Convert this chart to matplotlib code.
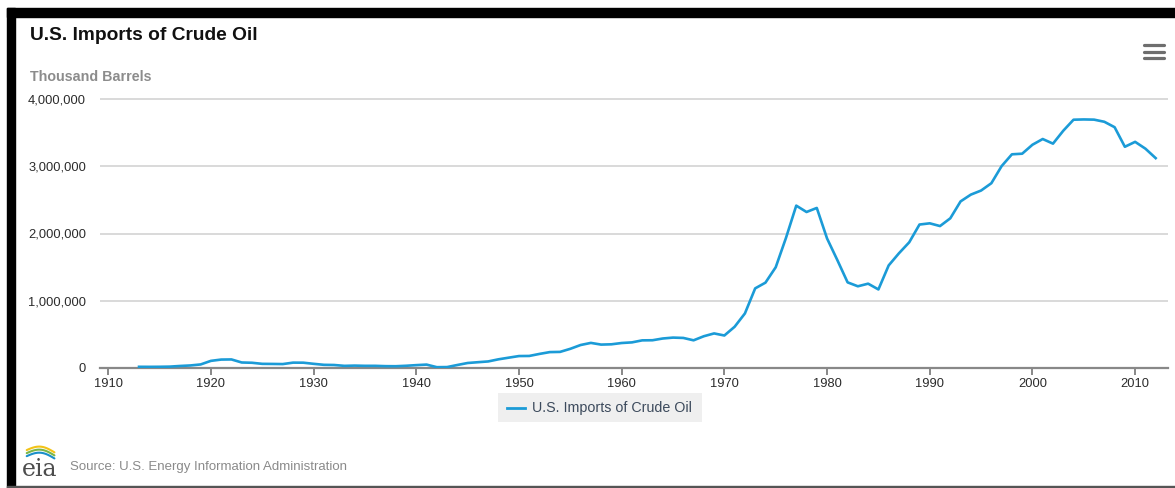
import matplotlib
matplotlib.use("Agg")
import matplotlib.pyplot as plt
import numpy as np
from matplotlib.patches import Rectangle, FancyBboxPatch
from matplotlib.ticker import FuncFormatter

W, H = 1175, 488

years = list(range(1913, 2013))
imports = [
    17809, 17247, 18140, 20570, 30162, 37736, 52822,                      # 1913-1919
    106175, 125364, 127308, 82015, 77775, 61824, 60382, 58383, 79767, 78933,  # 1920s
    62129, 47250, 44682, 31893, 35558, 32239, 32327, 27484, 26412, 33095,     # 1930s
    42662, 50606, 12297, 13833, 44805, 74337, 86066, 97532, 129093, 153686,   # 1940s
    177714, 179143, 209591, 236455, 239479, 285421, 341833, 373255, 348007, 352405,  # 1950s
    371575, 380999, 411039, 412660, 438643, 452040, 447120, 411649, 472323, 514114,  # 1960s
    483293, 613417, 811135, 1183996, 1269155, 1498181, 1935012, 2414327, 2319826, 2379968,  # 1970s
    1926200, 1604824, 1273296, 1215047, 1253946, 1168177, 1525347, 1705882, 1869031, 2133206,  # 1980s
    2151391, 2110634, 2225881, 2477155, 2578070, 2638982, 2747845, 3002299, 3177584, 3186663,  # 1990s
    3319816, 3404894, 3336175, 3527696, 3692063, 3695971, 3693081, 3661404, 3580694, 3289675,  # 2000s
    3362856, 3261422, 3120755,                                             # 2010-2012
]
decades = list(range(1910, 2020, 10))
yticks = [0, 1000000, 2000000, 3000000, 4000000]

LINE = "#1b9bd7"
TXT = "#2b2b2b"

plt.rcParams["font.family"] = ["Liberation Sans", "DejaVu Sans"]

fig = plt.figure(figsize=(W / 100, H / 100), dpi=100)


def fx(px):
    return px / W


def fy(py):
    return 1 - py / H


# screenshot frame
fig.patches.append(Rectangle((fx(7), fy(17)), 1 - fx(7), fy(8) - fy(17), transform=fig.transFigure,
                             color="black", zorder=0))
fig.patches.append(Rectangle((fx(7), 0), fx(15) - fx(7), fy(8), transform=fig.transFigure,
                             color="black", zorder=0))
fig.patches.append(Rectangle((fx(7), 0), 1 - fx(7), fy(485.5), transform=fig.transFigure,
                             color="#555555", zorder=0))

# plot area
top_px = 96
ax = fig.add_axes([fx(100), fy(368), fx(1168) - fx(100), fy(top_px) - fy(368)])
ax.plot(years, imports, color=LINE, lw=1.9, solid_joinstyle="round", zorder=3,
        label="U.S. Imports of Crude Oil")
ax.set_xlim(1909.2, 2013.2)
ax.set_ylim(0, 4000000 * (368 - top_px) / (368 - 99))

ax.set_yticks(yticks)
ax.yaxis.set_major_formatter(FuncFormatter(lambda v, _: f"{int(v):,}"))
ax.set_xticks(decades)
ax.grid(axis="y", color="#d9d9d9", lw=1.4)
ax.set_axisbelow(True)
for s in ("top", "right", "left"):
    ax.spines[s].set_visible(False)
ax.spines["bottom"].set_color("#888888")
ax.spines["bottom"].set_linewidth(1.6)
ax.tick_params(axis="y", length=0, pad=10, labelsize=9.3, labelcolor=TXT)
ax.tick_params(axis="x", length=5, width=1.4, color="#888888", pad=2, labelsize=9.3, labelcolor=TXT)

# titles
fig.text(fx(30), fy(35), "U.S. Imports of Crude Oil", fontsize=13.8, fontweight="bold",
         color="#111111", va="center", ha="left")
fig.text(fx(30), fy(77), "Thousand Barrels", fontsize=10.3, fontweight="bold",
         color="#8c8c8c", va="center", ha="left")

# menu icon
for yy in (45, 51.5, 58):
    fig.add_artist(plt.Line2D([fx(1144), fx(1164)], [fy(yy), fy(yy)], color="#6e6e6e",
                              lw=2.3, solid_capstyle="round", transform=fig.transFigure))

# legend box
fig.patches.append(FancyBboxPatch((fx(498), fy(422)), fx(702) - fx(498), fy(393) - fy(422),
                                  boxstyle="square,pad=0", transform=fig.transFigure,
                                  facecolor="#efefef", edgecolor="none"))
fig.add_artist(plt.Line2D([fx(507), fx(525)], [fy(408), fy(408)], color=LINE, lw=2.0,
                          transform=fig.transFigure))
fig.text(fx(532), fy(408), "U.S. Imports of Crude Oil", fontsize=10.3, color="#3c4a5c",
         va="center", ha="left")

# eia logo and source line
lax = fig.add_axes([fx(20), fy(482), fx(62) - fx(20), fy(444) - fy(482)])
lax.set_xlim(0, 1)
lax.set_ylim(0, 1)
lax.axis("off")
t = np.linspace(0, 1, 40)
for dy, c in ((0.0, "#1a8fc9"), (0.08, "#7ab648"), (0.16, "#f2c318")):
    xs = 0.16 + 0.66 * t
    ys = 0.68 + dy + 0.12 * np.sin(np.pi * t) - 0.06 * t
    lax.plot(xs, ys, color=c, lw=1.5, solid_capstyle="round")
lax.text(0.04, 0.02, "eia", fontsize=17, family="DejaVu Serif", color="#4d4d4d",
         va="bottom", ha="left")
fig.text(fx(70), fy(467), "Source: U.S. Energy Information Administration", fontsize=9.5,
         color="#8a8a8a", va="center", ha="left")

fig.savefig("out.png", dpi=100, facecolor="white")
